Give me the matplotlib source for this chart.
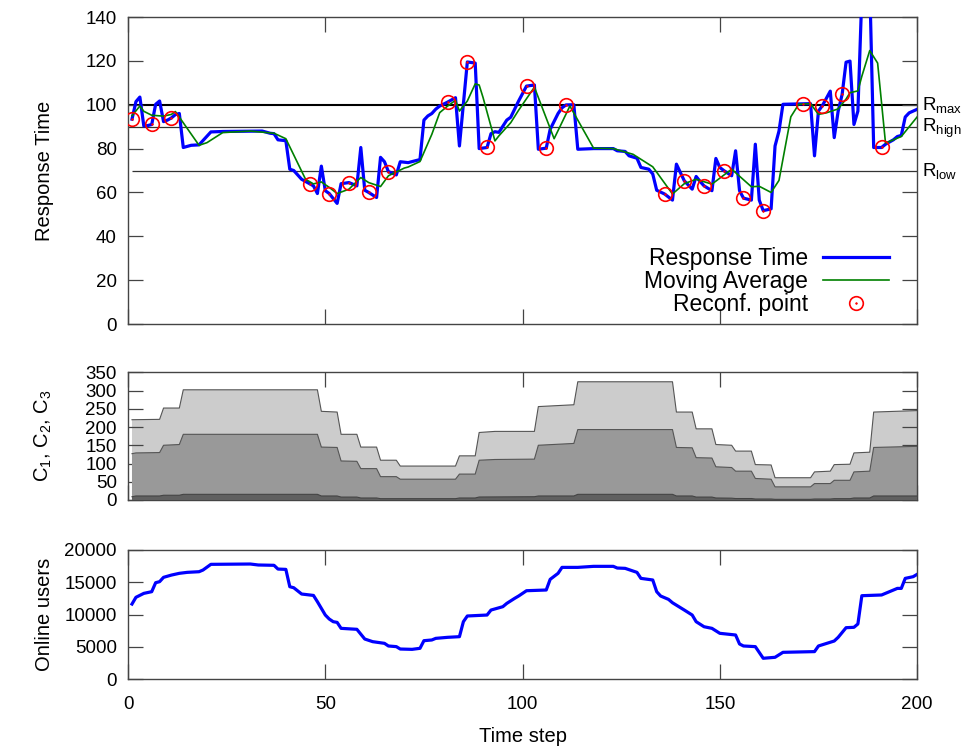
import numpy as np
import matplotlib
matplotlib.use("Agg")
import matplotlib.pyplot as plt
from matplotlib.lines import Line2D

plt.rcParams["font.family"] = ["Liberation Sans", "DejaVu Sans"]
plt.rcParams["mathtext.fontset"] = "custom"
plt.rcParams["mathtext.rm"] = "Liberation Sans"
plt.rcParams["mathtext.it"] = "Liberation Sans:italic"

# ---------------- response time (top panel) ----------------
rt_steps = [1, 2, 3, 4, 5, 6, 7, 8, 9, 10, 11, 12, 13, 14, 16, 18, 21, 24, 34, 36,
            37, 38, 40, 41, 42, 44, 46, 47, 48, 49, 50, 51, 53, 54, 56, 58, 59, 60, 61, 63,
            64, 65, 66, 68, 69, 71, 74, 75, 76, 77, 78, 79, 81, 83, 84, 86, 88, 89, 91, 92,
            93, 94, 96, 97, 99, 101, 103, 104, 106, 107, 109, 110, 111, 113, 114, 118, 123, 124, 126, 127,
            129, 130, 132, 133, 134, 136, 138, 139, 141, 143, 144, 145, 146, 148, 149, 150, 151, 153, 154, 155,
            156, 158, 159, 160, 161, 163, 164, 165, 166, 173, 174, 175, 176, 178, 179, 180, 181, 182, 183, 184,
            185, 186, 187, 188, 189, 191, 192, 194, 195, 196, 197, 198, 200]
rt_values = [93.4, 101.4, 103.5, 90.3, 90.5, 91.0, 100.2, 101.7, 92.3, 93.0, 94.0, 95.5, 96.0, 80.5, 81.5, 81.7, 87.6, 87.8, 88.0, 87.0,
             86.8, 84.0, 83.6, 70.6, 70.0, 66.0, 64.0, 63.0, 59.5, 72.0, 60.8, 59.5, 55.0, 64.0, 64.5, 63.0, 80.5, 61.0, 60.0, 57.7,
             76.0, 74.0, 69.5, 68.0, 74.0, 73.6, 75.0, 93.0, 94.9, 96.0, 98.0, 99.4, 101.2, 103.2, 81.2, 119.5, 119.0, 80.0, 80.5, 86.8,
             87.7, 87.4, 93.0, 94.3, 101.7, 108.5, 109.0, 79.7, 80.2, 88.8, 96.0, 98.6, 99.9, 100.0, 79.7, 80.0, 80.0, 79.0, 78.7, 76.7,
             75.6, 71.4, 70.6, 68.4, 61.0, 59.3, 56.5, 72.9, 65.3, 61.5, 67.3, 65.0, 63.0, 60.8, 75.5, 71.4, 70.0, 67.6, 79.0, 60.8,
             57.4, 56.5, 82.0, 56.5, 51.7, 52.5, 81.2, 88.0, 100.2, 100.5, 76.7, 97.1, 99.6, 106.2, 85.0, 97.1, 104.7, 119.4, 119.9, 91.0,
             97.1, 150.0, 165.0, 155.0, 80.5, 80.5, 82.0, 84.0, 85.5, 86.0, 94.4, 96.3, 97.9]

ma_steps = [1, 3, 4, 6, 9, 11, 12, 18, 20, 24, 31, 37, 40, 45, 47, 49, 51, 53, 56, 59,
            61, 64, 66, 70, 71, 74, 77, 79, 81, 83, 84, 86, 88, 89, 90, 93, 94, 97, 99, 103,
            108, 112, 118, 123, 128, 133, 138, 141, 144, 148, 153, 158, 160, 163, 165, 168, 170, 173, 175, 177,
            180, 182, 183, 185, 186, 188, 190, 192, 196, 200]
ma_values = [95.0, 99.4, 97.0, 95.2, 94.8, 95.6, 96.9, 81.5, 82.7, 87.3, 88.0, 87.0, 84.5, 66.0, 63.9, 64.8, 62.3, 59.5, 61.5, 66.8,
             64.5, 62.7, 67.6, 71.1, 71.6, 74.1, 86.5, 96.4, 99.4, 102.0, 97.1, 101.7, 109.5, 109.0, 103.2, 83.5, 85.8, 91.8, 97.5, 108.0,
             84.5, 99.4, 80.2, 80.0, 77.4, 71.7, 59.3, 64.0, 66.0, 63.8, 70.6, 62.6, 62.8, 60.0, 65.5, 94.5, 100.2, 100.5, 95.6, 96.3,
             98.1, 102.6, 105.5, 106.3, 113.0, 124.7, 119.0, 82.5, 85.5, 94.4]

reconf_steps = [1, 6, 11, 46, 51, 56, 61, 66, 81, 86, 91, 101, 106, 111,
                136, 141, 146, 151, 156, 161, 171, 176, 181, 191]
reconf_values = [93.4, 91.0, 94.0, 64.0, 59.5, 64.5, 60.0, 69.5, 101.2, 119.5, 80.5, 108.5, 80.2, 99.9,
                 59.3, 65.3, 63.0, 70.0, 57.4, 51.7, 100.5, 99.6, 104.7, 80.5]

thresholds = {"max": 100, "high": 90, "low": 70}

# ---------------- configuration levels (middle panel) ----------------
c3_steps = [1, 8, 9, 13, 14, 48, 49, 53, 54, 58, 59, 63, 64, 68, 69, 83, 84, 88, 89, 93,
            103, 104, 113, 114, 138, 139, 143, 144, 148, 149, 153, 154, 158, 159, 163, 164, 173, 174, 178, 179,
            183, 184, 188, 189, 200]
c3_values = [220, 221, 252, 252, 302, 302, 243, 241, 180, 180, 145, 145, 109, 109, 93, 93, 121, 121, 185, 188,
             188, 256, 261, 324, 324, 241, 241, 195, 195, 152, 150, 134, 134, 97, 96, 61, 61, 77, 79, 97,
             98, 129, 131, 241, 245]

c2_steps = [1, 2, 8, 9, 13, 14, 48, 49, 53, 54, 58, 59, 63, 64, 68, 69, 83, 84, 88, 89,
            93, 103, 104, 113, 114, 138, 139, 143, 144, 148, 149, 153, 154, 158, 159, 163, 164, 173, 174, 178,
            179, 183, 184, 188, 189, 200]
c2_values = [127, 129, 130, 150, 152, 180, 180, 145, 144, 107, 106, 86, 86, 64, 64, 57, 57, 71, 71, 109,
             111, 112, 150, 155, 193, 193, 144, 143, 116, 115, 91, 89, 79, 79, 59, 57, 36, 36, 45, 45,
             54, 54, 77, 79, 144, 147]

c1_steps = [1, 2, 8, 9, 13, 14, 48, 49, 53, 54, 58, 59, 63, 64, 83, 84, 88, 89, 103, 104,
            113, 114, 138, 139, 143, 144, 148, 149, 153, 154, 158, 159, 163, 164, 173, 174, 178, 179, 183, 184,
            188, 189, 200]
c1_values = [9, 11, 11, 13, 13, 15.5, 15.5, 11, 11, 8, 8, 5.5, 5.5, 3.6, 3.6, 5.5, 5.5, 8.2, 9, 11,
             11, 15.5, 15.5, 11, 11, 8, 8, 5.5, 5, 4, 4, 2.7, 2.7, 1.8, 1.8, 2.7, 2.7, 3.6, 3.6, 5.5,
             5.5, 11, 11]

# ---------------- online users (bottom panel) ----------------
users_steps = [1, 2, 4, 6, 7, 8, 9, 11, 13, 15, 18, 19, 21, 31, 33, 37, 38, 40, 41, 42,
               44, 47, 48, 49, 50, 51, 52, 53, 54, 58, 60, 62, 65, 66, 68, 69, 72, 74, 75, 77,
               78, 81, 84, 85, 86, 91, 92, 95, 96, 98, 99, 101, 106, 107, 109, 110, 114, 118, 123, 124,
               126, 129, 130, 133, 134, 135, 137, 138, 141, 143, 144, 146, 148, 150, 154, 155, 156, 159, 161, 164,
               166, 174, 175, 179, 180, 182, 184, 185, 186, 191, 193, 195, 196, 197, 199, 200]
users_values = [11640, 12680, 13290, 13550, 14940, 15100, 15770, 16120, 16390, 16540, 16640, 16900, 17780, 17830, 17680, 17630, 17050, 17000, 14320, 14160,
                13190, 12970, 12000, 10970, 9940, 9320, 8910, 8800, 7880, 7730, 6230, 5820, 5560, 5150, 5050, 4680, 4630, 4790, 5970, 6080,
                6330, 6490, 6590, 8910, 9790, 9940, 10710, 11230, 11740, 12520, 12880, 13700, 13810, 15460, 16390, 17310, 17310, 17470, 17470, 17210,
                17160, 16540, 15610, 15360, 13550, 12880, 12360, 11840, 10710, 9940, 8910, 8130, 7880, 7110, 6850, 5460, 5150, 5050, 3250, 3400,
                4170, 4280, 5150, 5920, 6490, 7980, 8040, 8560, 12930, 13040, 13550, 14060, 14060, 15610, 15870, 16230]

x_ticks = [0, 50, 100, 150, 200]

# ---------------- figure ----------------
fig = plt.figure(figsize=(9.62, 7.53), dpi=100)
ax1 = fig.add_axes([0.1331, 0.5697, 0.8202, 0.4077])
ax2 = fig.add_axes([0.1331, 0.3360, 0.8202, 0.1696])
ax3 = fig.add_axes([0.1331, 0.0979, 0.8202, 0.1717])

frame_col = "#444444"
label_size = 14.5
for ax in (ax1, ax2, ax3):
    ax.set_xlim(0, 200)
    ax.set_xticks(x_ticks)
    for s in ax.spines.values():
        s.set_color(frame_col)
        s.set_linewidth(1.0)
    ax.tick_params(direction="in", length=10.5, width=0.9, color=frame_col,
                   top=True, right=True, labelsize=13.5, pad=8)
    ax.tick_params(axis="x", pad=12)

# top panel
ax1.set_ylim(0, 140)
ax1.set_yticks(np.arange(0, 141, 20))
ax1.tick_params(labelbottom=False)
ax1.axhline(thresholds["max"], color="black", lw=1.5, zorder=1)
ax1.axhline(thresholds["high"], color="#333333", lw=0.9, zorder=1)
ax1.hlines(thresholds["low"], 1, 200, color="#333333", lw=0.9, zorder=1)
ax1.plot(rt_steps, rt_values, color="#0000ff", lw=2.3, zorder=3, label="Response Time")
ax1.plot(ma_steps, ma_values, color="#008000", lw=1.2, zorder=4, label="Moving Average")
ax1.plot(reconf_steps, reconf_values, ls="none", marker="o", ms=9.8, mfc="none",
         mec="#ff0000", mew=1.2, zorder=5)
ax1.plot(reconf_steps, reconf_values, ls="none", marker="o", ms=1.2, mfc="#ff0000",
         mec="#ff0000", mew=0.5, zorder=5)
ax1.set_ylabel("Response Time", fontsize=label_size)

for key in ("max", "high", "low"):
    ax1.annotate("R$_{\\mathrm{" + key + "}}$", xy=(1.0, thresholds[key]),
                 xycoords=("axes fraction", "data"), xytext=(3.5, -3.8),
                 textcoords="offset points", va="baseline", ha="left",
                 fontsize=13.5, annotation_clip=False)

h_rt = Line2D([], [], color="#0000ff", lw=2.3)
h_ma = Line2D([], [], color="#008000", lw=1.2)
h_rc1 = Line2D([], [], ls="none", marker="o", ms=9.8, mfc="none", mec="#ff0000", mew=1.2)
h_rc2 = Line2D([], [], ls="none", marker="o", ms=1.2, mfc="#ff0000", mec="#ff0000", mew=0.5)
ax1.legend([h_rt, h_ma, (h_rc1, h_rc2)], ["Response Time", "Moving Average", "Reconf. point"],
           loc="lower right", bbox_to_anchor=(0.9645, 0.025), frameon=False,
           markerfirst=False, fontsize=16.5, handlelength=2.9, handletextpad=0.65,
           labelspacing=0.0, borderpad=0, borderaxespad=0)

# middle panel
ax2.set_ylim(0, 350)
ax2.set_yticks(np.arange(0, 351, 50))
ax2.tick_params(labelbottom=False)
edge = "#555555"
ax2.fill_between(c3_steps, 0, c3_values, facecolor="#cccccc", edgecolor="none", zorder=1)
ax2.plot(c3_steps, c3_values, color=edge, lw=0.8, zorder=1.1)
ax2.fill_between(c2_steps, 0, c2_values, facecolor="#999999", edgecolor="none", zorder=2)
ax2.plot(c2_steps, c2_values, color=edge, lw=0.8, zorder=2.1)
ax2.fill_between(c1_steps, 0, c1_values, facecolor="#606060", edgecolor="none", zorder=3)
ax2.plot(c1_steps, c1_values, color="#444444", lw=0.8, zorder=3.1)
ax2.set_ylabel("C$_1$, C$_2$, C$_3$", fontsize=label_size)

# bottom panel
ax3.set_ylim(0, 20000)
ax3.set_yticks(np.arange(0, 20001, 5000))
ax3.plot(users_steps, users_values, color="#0000ff", lw=2.3)
ax3.set_ylabel("Online users", fontsize=label_size)
ax3.set_xlabel("Time step", fontsize=label_size, labelpad=10)

for ax in (ax1, ax2, ax3):
    ax.yaxis.set_label_coords(-0.094, 0.5)

fig.savefig("out.png", dpi=100)
